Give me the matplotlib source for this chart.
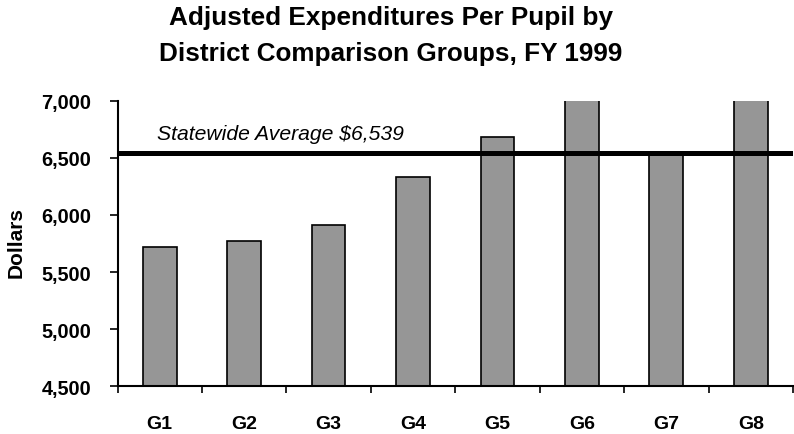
import matplotlib
matplotlib.use("Agg")
import matplotlib.pyplot as plt
import numpy as np

# District comparison groups and adjusted per-pupil expenditures (FY 1999)
groups = ["G1", "G2", "G3", "G4", "G5", "G6", "G7", "G8"]
expenditures = [5717, 5772, 5912, 6332, 6682, 7150, 6525, 7150]
statewide_average = 6539

y_min, y_max = 4500, 7000
y_ticks = [4500, 5000, 5500, 6000, 6500, 7000]

plt.rcParams["font.family"] = ["Liberation Sans", "DejaVu Sans"]

fig = plt.figure(figsize=(7.94, 4.35), dpi=100)
ax = fig.add_axes([0.148, 0.1097, 0.8507, 0.6565])

x = np.arange(len(groups))
ax.bar(x, expenditures, width=0.4, color="#969696", edgecolor="black",
       linewidth=1.2, zorder=2)

# Statewide average reference line and its caption
ax.axhline(statewide_average, color="black", linewidth=3.6, zorder=3)
fig.text(157 / 794, 1 - 140 / 435,
         "Statewide Average ${:,}".format(statewide_average),
         fontsize=15.2, style="italic", ha="left", va="baseline")

ax.set_xlim(-0.5, len(groups) - 0.5)
ax.set_ylim(y_min, y_max)

ax.set_yticks(y_ticks)
ax.set_yticklabels(["{:,}".format(v) for v in y_ticks],
                   fontsize=14.3, fontweight="bold")
ax.tick_params(axis="y", direction="out", length=6, width=1.2, pad=13)

ax.set_xticks(x)
ax.set_xticklabels(groups, fontsize=14, fontweight="bold")
ax.set_xticks(np.arange(len(groups) + 1) - 0.5, minor=True)
ax.tick_params(axis="x", which="major", length=0, pad=21)
ax.tick_params(axis="x", which="minor", direction="out", length=5, width=1.2)

for side in ("top", "right"):
    ax.spines[side].set_visible(False)
for side in ("left", "bottom"):
    ax.spines[side].set_linewidth(1.5)

fig.text(16.5 / 794, 1 - 243 / 435, "Dollars", rotation=90,
         fontsize=15, fontweight="bold", ha="center", va="center")

fig.text(391 / 794, 1 - 25 / 435, "Adjusted Expenditures Per Pupil by",
         fontsize=18.8, fontweight="bold", ha="center", va="baseline")
fig.text(391 / 794, 1 - 61 / 435, "District Comparison Groups, FY 1999",
         fontsize=18.8, fontweight="bold", ha="center", va="baseline")

fig.savefig("out.png", dpi=100)
